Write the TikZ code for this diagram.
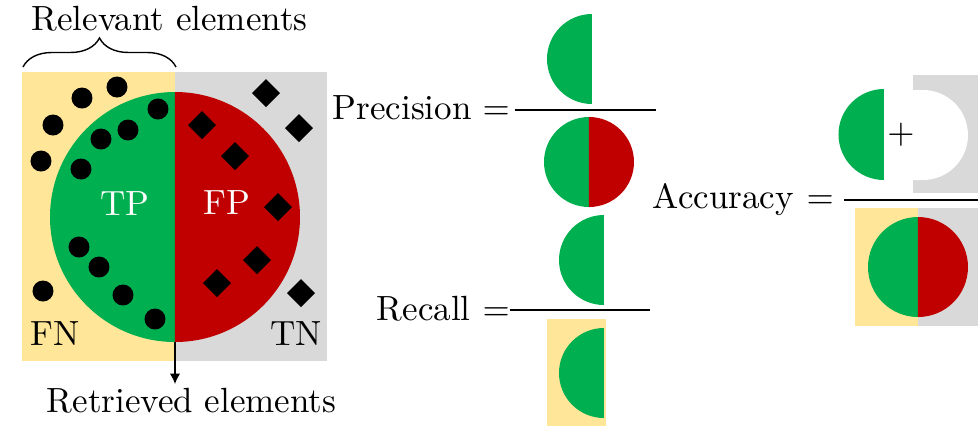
\documentclass[tikz,border=0pt]{standalone}
\usetikzlibrary{decorations.pathreplacing,arrows.meta}
\definecolor{tpgreen}{RGB}{0,176,80}
\definecolor{fpred}{RGB}{192,0,0}
\definecolor{fnyellow}{RGB}{255,230,153}
\definecolor{tngray}{RGB}{217,217,217}
\tikzset{
  lbl/.style={inner sep=0pt, anchor=base},
  lblw/.style={inner sep=0pt, anchor=base west},
  fracline/.style={line width=0.45pt},
  dotmark/.style={fill=black},
}
\newcommand{\lefthalf}[4]{\fill[#4] (#1,#2+#3) arc[start angle=90,end angle=270,radius=#3] -- cycle;}
\newcommand{\righthalf}[4]{\fill[#4] (#1,#2+#3) arc[start angle=90,end angle=-90,radius=#3] -- cycle;}
\begin{document}
\begin{tikzpicture}[x=0.2857pt,y=0.2857pt]
\useasboundingbox (0,0) rectangle (978,-426);
% ---------------- left diagram
\fill[fnyellow] (22,-72) rectangle (175,-361);
\fill[tngray] (175,-72) rectangle (327,-361);
\lefthalf{175}{-217}{125}{tpgreen}
\righthalf{175}{-217}{125}{fpred}
\foreach \x/\y in {117/87,82/98,53/125,41/161,158/109,128/130,101/139,81/169,79/247,99/267,43/291,123/295,155/319}
  \fill[dotmark] (\x,-\y) circle[radius=10.5];
\foreach \x/\y in {266/93,299/128,202/125,235/156,278/207,257/260,217/283,301/293}
  \fill[dotmark] (\x,-\y+14) -- (\x+14,-\y) -- (\x,-\y-14) -- (\x-14,-\y) -- cycle;
\node[lbl, text=white] (tp) at (125,-215) {TP};
\node[lbl, text=white] (fp) at (227,-214) {FP};
\node[lbl] (fn) at (55,-345) {FN};
\node[lbl] (tn) at (296,-345) {TN};
\coordinate (bl) at (23,-67);
\coordinate (br) at (176,-67);
\draw[line width=0.4pt, decorate, decoration={brace, amplitude=8.3pt}] (bl) -- (br);
\node[lblw] (rel) at (31,-30) {Relevant elements};
\coordinate (cbot) at (175,-342);
\coordinate (arrend) at (175,-384);
\draw[line width=0.4pt, -{Latex[length=3pt,width=3pt]}] (cbot) -- (arrend);
\node[lblw] (ret) at (46,-412) {Retrieved elements};
% ---------------- precision
\node[lblw] (prec) at (332,-119) {Precision};
\node[lblw] (preceq) at (482,-119) {$=$};
\lefthalf{592}{-59}{45}{tpgreen}
\coordinate (pl1) at (515,-110);
\coordinate (pl2) at (656,-110);
\draw[fracline] (pl1) -- (pl2);
\lefthalf{589}{-162}{45}{tpgreen}
\righthalf{589}{-162}{45}{fpred}
% ---------------- recall
\node[lblw] (rec) at (376,-320) {Recall};
\node[lblw] (receq) at (482,-320) {$=$};
\lefthalf{604}{-260}{45}{tpgreen}
\coordinate (rl1) at (510,-310);
\coordinate (rl2) at (650,-310);
\draw[fracline] (rl1) -- (rl2);
\fill[fnyellow] (547,-319) rectangle (606,-426);
\lefthalf{604}{-373}{45}{tpgreen}
% ---------------- accuracy
\node[lblw] (acc) at (652,-208) {Accuracy};
\node[lblw] (acceq) at (806,-208) {$=$};
\fill[tngray] (913,-75) rectangle (978,-193);
\fill[white] (913,-90) -- (923,-90) arc[start angle=90,end angle=-90,radius=45] -- (913,-180) -- cycle;
\lefthalf{884}{-134.5}{45.5}{tpgreen}
\node[inner sep=0pt] (plus) at (901,-135) {$+$};
\coordinate (al1) at (844,-200);
\coordinate (al2) at (978,-200);
\draw[fracline] (al1) -- (al2);
\fill[fnyellow] (855,-208) rectangle (918,-326);
\fill[tngray] (918,-208) rectangle (978,-326);
\lefthalf{918}{-267}{50}{tpgreen}
\righthalf{918}{-267}{50}{fpred}
\end{tikzpicture}
\end{document}
